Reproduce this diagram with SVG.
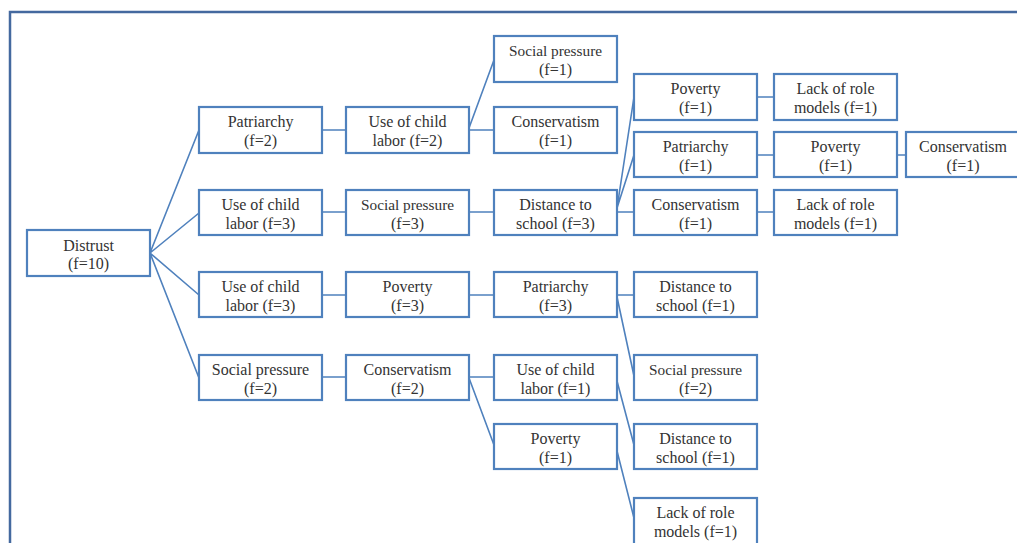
<svg xmlns="http://www.w3.org/2000/svg" width="1017" height="543" viewBox="0 0 1017 543">
<style>
.frame{fill:none;stroke:#44699f;stroke-width:2.5}
.box{fill:#fff;stroke:#4f81bd;stroke-width:2.2}
.lnk{stroke:#4f81bd;stroke-width:1.6;fill:none}
text{font-family:"Liberation Serif","DejaVu Serif",serif;font-size:16px;fill:#333;text-anchor:middle}
text.s{font-size:15.3px}
</style>
<rect width="1017" height="543" fill="#fff"/>
<rect class="frame" x="10" y="12" width="1100" height="600"/>
<g id="connectors">
<path class="lnk" d="M150,253 L199,130 M150,253 L199,213 M150,253 L199,295 M150,253 L199,378"/>
<path class="lnk" d="M322,130 H346 M322,212 H346 M322,295 H346 M322,377 H346"/>
<path class="lnk" d="M469,128 L494,60 M469,130 H494 M469,212 H494 M469,295 H494 M469,377 H494 M469,378 L494,445"/>
<path class="lnk" d="M617,208 L634,97 M617,208 L634,155 M617,212 H634 M617,295 H634 M617,297 L634,376 M617,381 L634,445 M617,451 L634,518"/>
<path class="lnk" d="M757,97 H774 M757,155 H774 M757,212 H774 M897,155 H906"/>
</g>
<g id="n0"><rect class="box" x="27" y="230" width="123" height="46"/><text x="88.5" y="251">Distrust</text><text x="88.5" y="269">(f=10)</text></g>
<g id="n1"><rect class="box" x="199" y="107" width="123" height="46"/><text x="260.5" y="127">Patriarchy</text><text x="260.5" y="146">(f=2)</text></g>
<g id="n2"><rect class="box" x="199" y="190" width="123" height="45"/><text x="260.5" y="210">Use of child</text><text x="260.5" y="229">labor (f=3)</text></g>
<g id="n3"><rect class="box" x="199" y="272" width="123" height="45"/><text x="260.5" y="292">Use of child</text><text x="260.5" y="311">labor (f=3)</text></g>
<g id="n4"><rect class="box" x="199" y="355" width="123" height="45"/><text x="260.5" y="375">Social pressure</text><text x="260.5" y="394">(f=2)</text></g>
<g id="n5"><rect class="box" x="346" y="107" width="123" height="46"/><text x="407.5" y="127">Use of child</text><text x="407.5" y="146">labor (f=2)</text></g>
<g id="n6"><rect class="box" x="346" y="190" width="123" height="45"/><text class="s" x="407.5" y="210">Social pressure</text><text x="407.5" y="229">(f=3)</text></g>
<g id="n7"><rect class="box" x="346" y="272" width="123" height="45"/><text x="407.5" y="292">Poverty</text><text x="407.5" y="311">(f=3)</text></g>
<g id="n8"><rect class="box" x="346" y="355" width="123" height="45"/><text x="407.5" y="375">Conservatism</text><text x="407.5" y="394">(f=2)</text></g>
<g id="n9"><rect class="box" x="494" y="36" width="123" height="46"/><text class="s" x="555.5" y="56">Social pressure</text><text x="555.5" y="75">(f=1)</text></g>
<g id="n10"><rect class="box" x="494" y="107" width="123" height="46"/><text x="555.5" y="127">Conservatism</text><text x="555.5" y="146">(f=1)</text></g>
<g id="n11"><rect class="box" x="494" y="190" width="123" height="45"/><text x="555.5" y="210">Distance to</text><text x="555.5" y="229">school (f=3)</text></g>
<g id="n12"><rect class="box" x="494" y="272" width="123" height="45"/><text x="555.5" y="292">Patriarchy</text><text x="555.5" y="311">(f=3)</text></g>
<g id="n13"><rect class="box" x="494" y="355" width="123" height="45"/><text x="555.5" y="375">Use of child</text><text x="555.5" y="394">labor (f=1)</text></g>
<g id="n14"><rect class="box" x="494" y="424" width="123" height="45"/><text x="555.5" y="444">Poverty</text><text x="555.5" y="463">(f=1)</text></g>
<g id="n15"><rect class="box" x="634" y="74" width="123" height="46"/><text x="695.5" y="94">Poverty</text><text x="695.5" y="113">(f=1)</text></g>
<g id="n16"><rect class="box" x="634" y="132" width="123" height="45"/><text x="695.5" y="152">Patriarchy</text><text x="695.5" y="171">(f=1)</text></g>
<g id="n17"><rect class="box" x="634" y="190" width="123" height="45"/><text x="695.5" y="210">Conservatism</text><text x="695.5" y="229">(f=1)</text></g>
<g id="n18"><rect class="box" x="634" y="272" width="123" height="45"/><text x="695.5" y="292">Distance to</text><text x="695.5" y="311">school (f=1)</text></g>
<g id="n19"><rect class="box" x="634" y="355" width="123" height="45"/><text class="s" x="695.5" y="375">Social pressure</text><text x="695.5" y="394">(f=2)</text></g>
<g id="n20"><rect class="box" x="634" y="424" width="123" height="45"/><text x="695.5" y="444">Distance to</text><text x="695.5" y="463">school (f=1)</text></g>
<g id="n21"><rect class="box" x="634" y="498" width="123" height="60"/><text x="695.5" y="518">Lack of role</text><text x="695.5" y="537">models (f=1)</text></g>
<g id="n22"><rect class="box" x="774" y="74" width="123" height="46"/><text x="835.5" y="94">Lack of role</text><text x="835.5" y="113">models (f=1)</text></g>
<g id="n23"><rect class="box" x="774" y="132" width="123" height="45"/><text x="835.5" y="152">Poverty</text><text x="835.5" y="171">(f=1)</text></g>
<g id="n24"><rect class="box" x="774" y="190" width="123" height="45"/><text x="835.5" y="210">Lack of role</text><text x="835.5" y="229">models (f=1)</text></g>
<g id="n25"><rect class="box" x="906" y="132" width="123" height="45"/><text x="963" y="152">Conservatism</text><text x="963" y="171">(f=1)</text></g>
</svg>
